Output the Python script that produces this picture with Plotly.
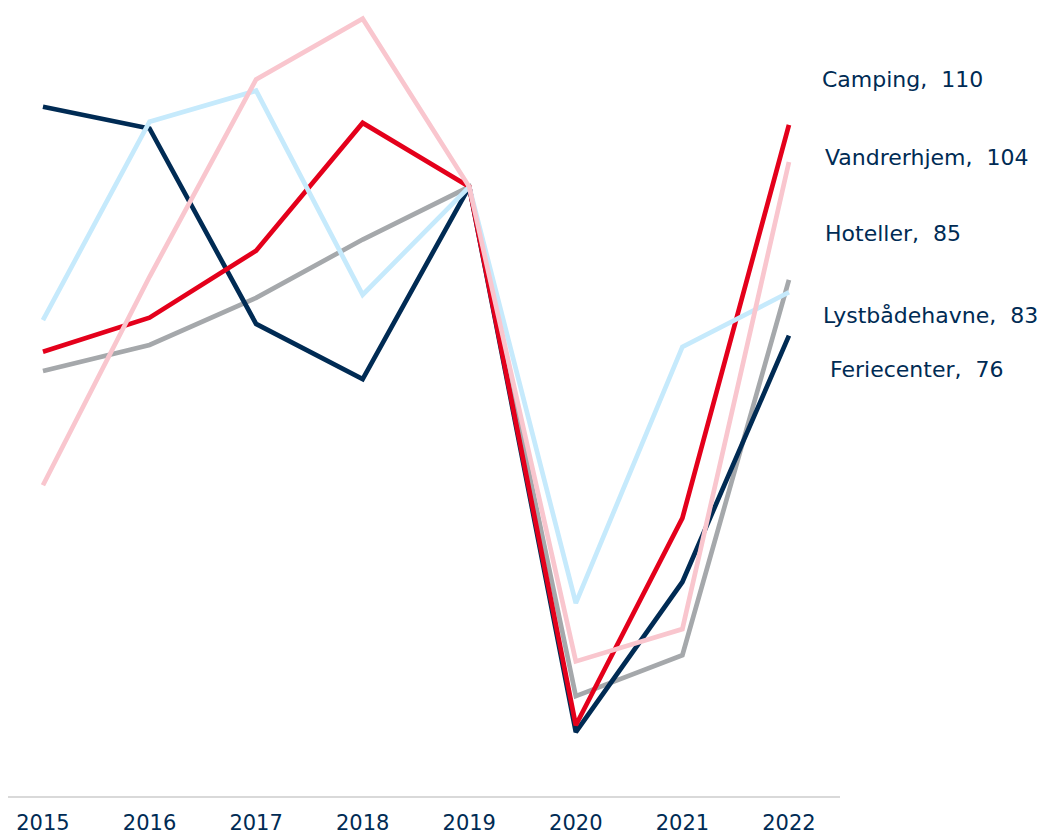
import plotly.graph_objects as go

years = ['2015', '2016', '2017', '2018', '2019', '2020', '2021', '2022']

# index, 2019 = 100
camping = [73.4, 78.9, 89.7, 110.3, 100, 13.2, 46.6, 110]
vandrerhjem = [51.9, 85.5, 117.3, 127.1, 100, 23.5, 28.7, 104]
hoteller = [70.3, 74.5, 82.1, 91.5, 100, 17.9, 24.5, 85]
lystbaadehavne = [78.5, 110.5, 115.5, 82.6, 100, 32.9, 74.2, 83]
feriecenter = [112.9, 109.4, 77.9, 69.0, 100, 12.1, 36.3, 76]

navy = '#002b54'
series = [
    ('Hoteller', hoteller, '#a5a8ab'),
    ('Feriecenter', feriecenter, navy),
    ('Camping', camping, '#e4001b'),
    ('Lystbådehavne', lystbaadehavne, '#c6eafc'),
    ('Vandrerhjem', vandrerhjem, '#f9c6ce'),
]

# label positions (y in data units) on the right side
label_y = {'Camping': 117.3, 'Vandrerhjem': 104.8, 'Hoteller': 92.4,
           'Lystbådehavne': 79.2, 'Feriecenter': 70.5}
label_x = {'Camping': 0.976, 'Vandrerhjem': 0.98, 'Hoteller': 0.98,
           'Lystbådehavne': 0.977, 'Feriecenter': 0.986}

fig = go.Figure()
for name, vals, col in series:
    fig.add_trace(go.Scatter(x=years, y=vals, mode='lines', name=name,
                             line=dict(color=col, width=4.7), showlegend=False))
    fig.add_annotation(x=label_x[name], xref='paper', y=label_y[name], yref='y',
                       text=f'{name},  {vals[-1]:.0f}', showarrow=False,
                       xanchor='left', yanchor='middle',
                       font=dict(size=22, color=navy))

fig.update_layout(
    width=1059, height=838,
    margin=dict(l=0, r=227, t=2, b=50),
    plot_bgcolor='white', paper_bgcolor='white',
    font=dict(family='DejaVu Sans, Open Sans, sans-serif', color=navy),
    xaxis=dict(type='category', range=[-0.328, 7.479], showgrid=False,
               showline=True, linecolor='#d9d9d9', linewidth=2,
               ticks='', ticklabelstandoff=7, tickfont=dict(size=21, color=navy)),
    yaxis=dict(range=[1.8, 128.5], showgrid=False, zeroline=False,
               showticklabels=False, showline=False),
)

fig.write_html('out.html')
